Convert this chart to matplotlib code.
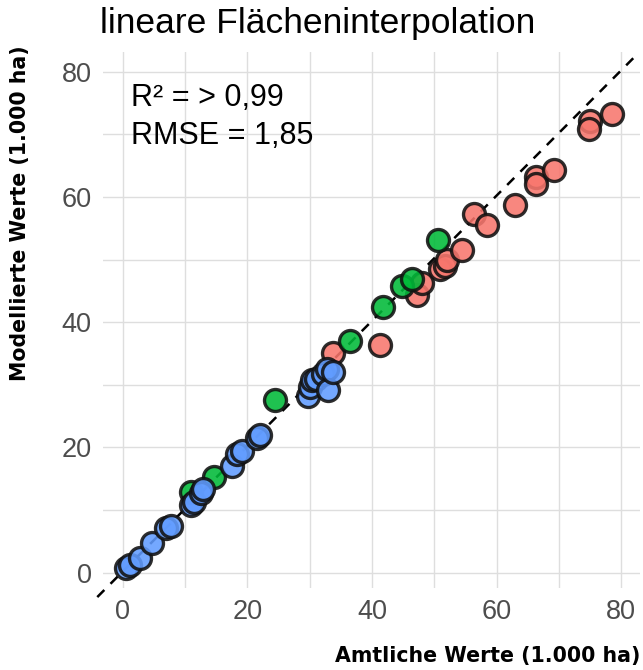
import matplotlib.pyplot as plt
import numpy as np

# Amtliche (x) vs. modellierte (y) Werte, 1.000 ha
red_x = [33.8, 41.3, 47.3, 48.1, 50.9, 51.7, 52.0, 54.5, 56.4, 58.4, 62.9, 66.3, 66.3, 69.3, 75.0, 74.9, 78.6]
red_y = [35.0, 36.4, 44.4, 46.3, 48.5, 49.0, 49.9, 51.6, 57.2, 55.5, 58.7, 63.2, 62.0, 64.3, 72.1, 70.8, 73.3]

green_x = [10.9, 14.6, 24.5, 36.4, 41.8, 44.8, 46.4, 50.6]
green_y = [12.8, 15.2, 27.5, 37.0, 42.4, 45.8, 46.9, 53.1]

blue_x = [0.5, 1.1, 2.7, 4.7, 7.0, 7.8, 10.9, 11.4, 12.5, 12.9, 17.5, 18.3, 19.2, 21.5, 22.0,
          29.8, 30.0, 30.3, 31.0, 32.2, 32.8, 33.0, 33.8]
blue_y = [0.8, 1.3, 2.3, 4.7, 7.2, 7.4, 10.8, 11.3, 12.7, 13.3, 17.1, 18.9, 19.4, 21.5, 22.0,
          28.2, 29.7, 30.8, 31.0, 31.8, 32.5, 29.1, 32.1]

ticks = [0, 20, 40, 60, 80]
minor_ticks = [10, 30, 50, 70]

title = "lineare Flächeninterpolation"
stats_text = "R² = > 0,99\nRMSE = 1,85"
xlabel = "Amtliche Werte (1.000 ha)"
ylabel = "Modellierte Werte (1.000 ha)"

plt.rcParams['font.family'] = ['Liberation Sans', 'DejaVu Sans']

fig = plt.figure(figsize=(6.43, 6.70), dpi=100)
ax = fig.add_axes([0.160, 0.1224, 0.835, 0.7996])

# 1:1 line
ax.plot([-4.1, 82.4], [-3.9, 82.6], linestyle=(0, (4, 3.5)), color='black', linewidth=1.8,
        clip_on=False, zorder=2)

for xs, ys, col in [(red_x, red_y, '#F8766D'), (green_x, green_y, '#00BA38'), (blue_x, blue_y, '#619CFF')]:
    ax.scatter(xs, ys, s=250, c=col, edgecolors='#111111', linewidths=2.4, alpha=0.88, zorder=3)

ax.set_xlim(-3.2, 83.0)
ax.set_ylim(-2.45, 83.1)
ax.set_xticks(ticks)
ax.set_yticks(ticks)
ax.set_xticks(minor_ticks, minor=True)
ax.set_yticks(minor_ticks, minor=True)
ax.grid(True, which='both', color='#DEDEDE', linewidth=1.0)
ax.set_axisbelow(True)
ax.tick_params(which='both', length=0, pad=8, labelsize=19.5, labelcolor='#4D4D4D')
for sp in ax.spines.values():
    sp.set_visible(False)

ax.text(0.053, 0.942, stats_text, transform=ax.transAxes, fontsize=22, va='top', ha='left',
        linespacing=1.34)

fig.text(100 / 643, 1 - 33 / 670, title, fontsize=25.5, ha='left', va='baseline')
fig.text(640 / 643, 1 - 666 / 670, xlabel, fontsize=14.8, fontweight='bold', ha='right', va='bottom',
         family='DejaVu Sans')
fig.text(10 / 643, 1 - 45 / 670, ylabel, fontsize=14.8, fontweight='bold', rotation=90,
         ha='left', va='top', family='DejaVu Sans')

fig.savefig('out.png', dpi=100)
